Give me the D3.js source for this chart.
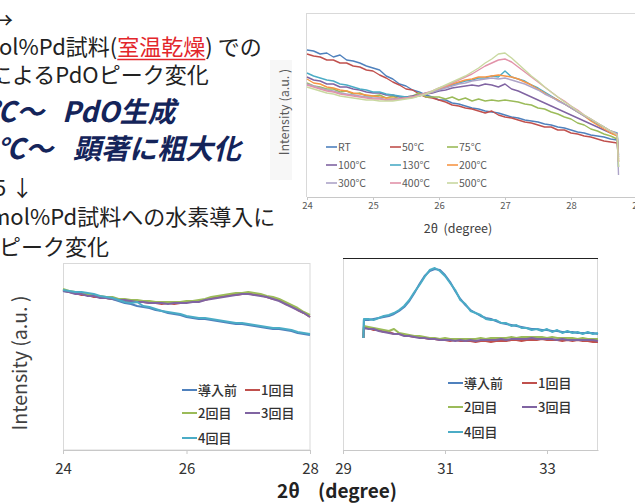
<!DOCTYPE html>
<html><head><meta charset="utf-8">
<script src="https://cdn.jsdelivr.net/npm/d3@7"></script>
<style>
body{margin:0;background:#fff;}
svg{display:block;font-family:"Noto Sans CJK JP","Noto Sans",sans-serif;}
</style>
</head><body>
<svg id="c" width="635" height="504"></svg>
<script>
// ================= DATA =================
// Top chart: PdO peak vs. annealing temperature
const topLabels = ["RT","50°C","75°C","100°C","130°C","200°C","300°C","400°C","500°C"];
const topTicks = [24,25,26,27,28,29];
const topX = d3.range(240,288).map(d => d/10).concat([28.72]); // 2θ sampling
const topRT  = [147,146,143,144,140,142,137,136,134,131,129,127,121,118,113,111,107,105,102,100,97,97,94,93,91,89,88,86,85,84,82,80,79,77,76,75,73,72,70,69,67,65,64,62,61,60,58,57,30];
const top50  = [143,141,140,137,137,134,134,131,130,127,126,122,119,115,112,108,107,103,100,99,97,95,92,91,89,88,86,84,86,82,80,79,77,75,74,72,70,70,67,67,64,63,61,60,58,56,55,54,35];
const top75  = [114,111,110,108,108,105,106,103,104,101,101,102,99,101,98,100,101,104,100,100,100,98,100,97,99,96,98,96,97,96,97,96,95,93,92,89,88,85,83,80,78,74,72,68,66,63,61,58,38];
const top100 = [120,117,116,113,113,110,110,108,107,105,104,104,102,102,100,100,101,102,103,104,106,107,109,110,111,112,111,113,112,110,113,108,106,103,100,97,94,91,88,85,82,79,76,73,70,67,64,62,40];
const top130 = [124,121,119,117,116,113,112,110,108,107,105,105,103,102,101,100,100,102,104,105,107,110,112,114,116,117,119,119,121,120,126,120,118,116,112,109,105,101,97,93,89,85,81,77,73,70,66,64,42];
const top200 = [118,114,113,110,109,107,106,104,103,102,101,100,99,99,98,99,100,101,103,105,108,110,113,115,117,118,120,120,121,122,121,120,118,115,112,108,104,100,97,93,89,85,81,76,72,68,64,61,36];
const top300 = [113,111,109,107,106,104,103,102,101,100,99,99,97,98,98,99,100,101,103,105,107,109,111,113,114,116,117,118,119,118,119,117,115,113,110,107,103,100,96,93,89,85,81,78,74,70,66,63,22];
const top400 = [112,110,108,106,105,103,102,101,100,99,98,98,97,97,98,99,100,102,104,106,109,111,114,117,120,123,127,131,134,137,138,135,130,125,120,115,110,105,100,96,91,87,82,78,74,70,66,63,35];
const top500 = [110,108,106,104,103,101,100,99,98,97,97,96,96,96,97,98,99,101,103,106,109,112,115,118,121,125,129,134,138,143,144,139,133,127,121,116,110,105,100,95,91,86,82,78,74,70,66,62,30];
const topValues = [topRT,top50,top75,top100,top130,top200,top300,top400,top500];
const topColors = ["#4F81BD","#C0504D","#9BBB59","#8064A2","#4BACC6","#F79646","#ADA4C8","#E293A9","#C9D8A0"];

// Bottom charts: hydrogen introduction
const botLabels = ["導入前","1回目","2回目","3回目","4回目"];
const botColors = ["#4F81BD","#C0504D","#9BBB59","#8064A2","#4BACC6"];
const blTicks = [24,26,28];
const blX = d3.range(240,281).map(d => d/10);
const blPre = [159,158,157,157,156,155,153,152,151,149,147,146,144,143,142,140,139,137,136,135,133,132,131,131,130,129,128,127,126,126,125,124,123,122,121,121,120,119,117,116,115];
const bl1   = [160,158,157,155,155,153,153,152,151,151,149,149,148,148,147,147,146,147,146,147,148,148,149,150,152,153,154,155,155,156,157,155,155,153,151,150,146,144,140,137,133];
const bl2   = [161,159,158,156,156,154,154,153,153,151,151,150,150,149,149,148,148,148,148,148,149,149,150,151,153,154,155,156,157,157,158,157,156,154,153,151,148,145,142,138,135];
const bl3   = [159,158,156,156,154,154,152,152,151,150,150,149,148,148,147,147,147,146,147,147,147,148,148,150,151,152,153,154,155,156,156,155,154,153,151,149,146,143,140,137,133];
const bl4   = [160,159,158,158,157,156,154,153,152,150,148,147,148,144,143,141,139,138,137,136,134,133,132,132,131,130,129,128,127,127,126,125,124,123,122,122,121,120,118,117,116];
const blValues = [blPre,bl1,bl2,bl3,bl4];

const brTicks = [29,31,33];
const brX = [29.40,29.41].concat(d3.range(295,341).map(d => d/10));
const brPre = [112,130,130,131,132,133,134,136,139,143,149,157,166,174,179,181,180,175,168,159,151,145,140,137,134,132,131,129,127,126,125,124,123,122,121,121,120,120,119,119,118,118,118,117,117,117,117,116];
const br1   = [112,123,122,120,120,118,118,116,116,115,114,113,113,112,111,111,110,110,109,110,109,109,109,108,109,109,108,109,109,109,110,110,109,110,110,110,111,110,110,110,109,110,109,110,109,109,108,108];
const br2   = [112,124,123,122,121,120,119,121,117,116,115,114,114,113,112,112,111,112,111,111,111,111,111,111,112,111,112,112,112,112,113,112,113,113,113,113,113,112,113,112,112,112,112,111,112,111,111,111];
const br3   = [112,122,121,121,119,118,117,116,116,114,114,113,112,112,111,111,110,110,110,109,110,109,110,109,110,110,110,110,111,110,111,111,111,111,112,111,111,111,111,110,111,110,110,110,110,110,110,109];
const br4   = [112,131,131,130,132,134,135,137,140,144,150,158,165,173,180,182,179,174,167,160,150,146,139,137,135,131,130,130,127,127,124,125,122,122,120,121,119,121,118,120,117,119,117,118,116,118,116,117];
const brValues = [brPre,br1,br2,br3,br4];

// ================= DRAW =================
const svg = d3.select("#c");
const JP = '"Noto Sans CJK JP","Noto Sans",sans-serif';

// ---------- left slide text ----------
const tx = svg.append("g").attr("font-family", JP).attr("fill", "#222");
tx.append("text").attr("x", -9).attr("y", 28).attr("font-size", 22).text("→");
const l2 = tx.append("text").attr("x", -1).attr("y", 55).attr("font-size", 22);
l2.append("tspan").text("ol%Pd試料(");
l2.append("tspan").attr("fill", "#E3262B").text("室温乾燥");
l2.append("tspan").text(") での");
{
  const node = l2.node();
  const s = node.getStartPositionOfChar(8).x;
  const e = node.getEndPositionOfChar(11).x;
  tx.append("line").attr("x1", s).attr("x2", e).attr("y1", 59.5).attr("y2", 59.5)
    .attr("stroke", "#E3262B").attr("stroke-width", 1.4);
}
tx.append("text").attr("x", -10).attr("y", 83).attr("font-size", 22).text("によるPdOピーク変化");
const boldLine = (x, y, s) => tx.append("text").attr("x", x).attr("y", y).attr("font-size", 28)
  .attr("font-weight", "bold").attr("font-style", "italic").attr("fill", "#14245A").text(s);
boldLine(-12, 122, "℃～");
boldLine(62, 122, "PdO生成");
boldLine(-3, 159, "℃～");
boldLine(73, 159, "顕著に粗大化");
tx.append("text").attr("x", -6).attr("y", 196).attr("font-size", 22).text("5 ↓");
tx.append("text").attr("x", -10).attr("y", 225).attr("font-size", 22).text("mol%Pd試料への水素導入に");
tx.append("text").attr("x", -1).attr("y", 255).attr("font-size", 22).text("ピーク変化");

// ---------- top chart ----------
const tX = d3.scaleLinear().domain([24,29]).range([307,637]);
const tY = d3.scaleLinear().domain([0,184]).range([197,13]);
const topG = svg.append("g");
topG.append("rect").attr("x", 270).attr("y", 60).attr("width", 22).attr("height", 120).attr("fill", "#f7f7f7");
topG.append("line").attr("x1", 306.5).attr("x2", 306.5).attr("y1", 13).attr("y2", 197).attr("stroke", "#d9d9d9");
topG.append("line").attr("x1", 306).attr("x2", 635).attr("y1", 13.5).attr("y2", 13.5).attr("stroke", "#d9d9d9");
const tAxis = topG.append("g").attr("transform", "translate(0,197)")
  .call(d3.axisBottom(tX).tickValues(topTicks).tickFormat(d3.format("d")).tickSize(3).tickSizeOuter(0).tickPadding(2));
tAxis.selectAll("path,line").attr("stroke", "#c8c8c8");
tAxis.selectAll("text").attr("font-size", 9.5).attr("fill", "#595959").attr("font-family", JP);
const tLine = d3.line().x((d,i) => tX(topX[i])).y(d => tY(d));
topValues.forEach((vals, k) => {
  topG.append("path").datum(vals).attr("d", tLine).attr("fill", "none")
    .attr("stroke", topColors[k]).attr("stroke-width", 1.4).attr("stroke-linejoin", "round");
});
// legend
const tColX = [326, 390, 447], tRowY = [147, 165, 183];
topLabels.forEach((lab, k) => {
  const cx = tColX[k % 3], cy = tRowY[Math.floor(k / 3)];
  topG.append("line").attr("x1", cx).attr("x2", cx + 11).attr("y1", cy).attr("y2", cy)
    .attr("stroke", topColors[k]).attr("stroke-width", 1.6);
  topG.append("text").attr("x", cx + 12).attr("y", cy).attr("dy", "0.35em")
    .attr("font-size", 10.5).attr("fill", "#595959").text(lab);
});
topG.append("text").attr("transform", "translate(289,112) rotate(-90)").attr("text-anchor", "middle")
  .attr("font-size", 12.5).attr("fill", "#595959").text("Intensity (a.u. )");
topG.append("text").attr("x", 458).attr("y", 233).attr("text-anchor", "middle")
  .attr("font-size", 12.5).attr("fill", "#404040").attr("xml:space", "preserve").text("2θ  (degree)");

// ---------- bottom-left chart ----------
const lX = d3.scaleLinear().domain([24,28]).range([63,310]);
const bY = d3.scaleLinear().domain([0,200]).range([450,250]);
const blG = svg.append("g");
blG.append("rect").attr("x", 63.5).attr("y", 263.5).attr("width", 246.5).attr("height", 186.5)
  .attr("fill", "none").attr("stroke", "#d9d9d9");
const lAxis = blG.append("g").attr("transform", "translate(0,450)")
  .call(d3.axisBottom(lX).tickValues(blTicks).tickFormat(d3.format("d")).tickSize(4).tickSizeOuter(0).tickPadding(9));
lAxis.selectAll("path,line").attr("stroke", "#c8c8c8");
lAxis.selectAll("text").attr("font-size", 15).attr("fill", "#333").attr("font-family", JP);
const lLine = d3.line().x((d,i) => lX(blX[i])).y(d => bY(d));
blValues.forEach((vals, k) => {
  blG.append("path").datum(vals).attr("d", lLine).attr("fill", "none")
    .attr("stroke", botColors[k]).attr("stroke-width", 2).attr("stroke-linejoin", "round");
});
blG.append("text").attr("transform", "translate(27,363) rotate(-90)").attr("text-anchor", "middle")
  .attr("font-size", 19.5).attr("fill", "#404040").text("Intensity (a.u. )");

// ---------- bottom-right chart ----------
const rX = d3.scaleLinear().domain([29,34]).range([343,598]);
const brG = svg.append("g");
brG.append("line").attr("x1", 343.5).attr("x2", 343.5).attr("y1", 258).attr("y2", 450).attr("stroke", "#d9d9d9");
brG.append("line").attr("x1", 597.5).attr("x2", 597.5).attr("y1", 258).attr("y2", 450).attr("stroke", "#d9d9d9");
brG.append("line").attr("x1", 343).attr("x2", 598).attr("y1", 258.5).attr("y2", 258.5).attr("stroke", "#222").attr("stroke-width", 1.2);
const rAxis = brG.append("g").attr("transform", "translate(0,450)")
  .call(d3.axisBottom(rX).tickValues(brTicks).tickFormat(d3.format("d")).tickSize(4).tickSizeOuter(0).tickPadding(9));
rAxis.selectAll("path,line").attr("stroke", "#c8c8c8");
rAxis.selectAll("text").attr("font-size", 15).attr("fill", "#333").attr("font-family", JP);
const rLine = d3.line().x((d,i) => rX(brX[i])).y(d => bY(d));
brValues.forEach((vals, k) => {
  brG.append("path").datum(vals).attr("d", rLine).attr("fill", "none")
    .attr("stroke", botColors[k]).attr("stroke-width", 2).attr("stroke-linejoin", "round");
});

// bottom legends
function botLegend(g, colX, rowY) {
  botLabels.forEach((lab, k) => {
    const cx = colX[k % 2], cy = rowY[Math.floor(k / 2)];
    g.append("line").attr("x1", cx).attr("x2", cx + 15).attr("y1", cy).attr("y2", cy)
      .attr("stroke", botColors[k]).attr("stroke-width", 2);
    g.append("text").attr("x", cx + 16).attr("y", cy).attr("dy", "0.36em")
      .attr("font-size", 13).attr("fill", "#333").attr("font-weight", 500).text(lab);
  });
}
botLegend(blG, [182, 245], [390, 413, 438]);
botLegend(brG, [448, 522], [383, 407, 432]);

// shared x-axis title
const xt = svg.append("text").attr("y", 498).attr("font-size", 19).attr("font-weight", "bold")
  .attr("fill", "#222");
xt.append("tspan").attr("x", 277).text("2θ");
xt.append("tspan").attr("x", 318).text("(degree)");
</script>
</body></html>
